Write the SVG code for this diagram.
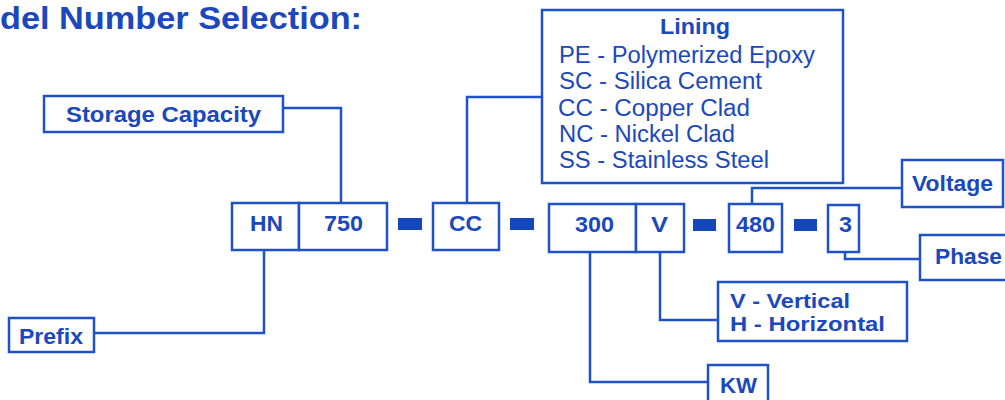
<svg xmlns="http://www.w3.org/2000/svg" width="1005" height="400" viewBox="0 0 1005 400">
<style>
.box{fill:#fff;stroke:#1f52c8;stroke-width:2.5}
.ln{fill:none;stroke:#1f52c8;stroke-width:2.5}
.dash{fill:#1646bc}
text{font-family:"Liberation Sans",Arial,sans-serif;fill:#1b48bd}
.t{font-size:31px;font-weight:bold}
.m{font-size:22px;font-weight:bold}
.s{font-size:20px;font-weight:bold}
.r{font-size:23px}
</style>
<rect width="1005" height="400" fill="#fff"/>
<text class="t" x="0" y="29" textLength="362" lengthAdjust="spacingAndGlyphs">del Number Selection:</text>
<g id="connectors">
<path class="ln" d="M283,108 H341 V203"/>
<path class="ln" d="M542,97 H467 V203"/>
<path class="ln" d="M264,250 V333 H94"/>
<path class="ln" d="M752,204 V188 H902"/>
<path class="ln" d="M845,252 V259 H920"/>
<path class="ln" d="M660,252 V320 H718"/>
<path class="ln" d="M590,252 V382 H708"/>
</g>
<g id="dashes">
<rect class="dash" x="398" y="218" width="24" height="12"/>
<rect class="dash" x="510" y="218" width="24" height="12"/>
<rect class="dash" x="693" y="219" width="23" height="12"/>
<rect class="dash" x="794" y="219" width="23" height="12"/>
</g>
<g id="storage">
<rect class="box" x="44" y="96" width="239" height="36"/>
<text class="m" x="66" y="122" textLength="195" lengthAdjust="spacingAndGlyphs">Storage Capacity</text>
</g>
<g id="lining">
<rect class="box" x="542" y="10" width="301" height="173"/>
<text class="m" x="660" y="34" textLength="70" lengthAdjust="spacingAndGlyphs">Lining</text>
<text class="r" x="559" y="63" textLength="256" lengthAdjust="spacingAndGlyphs">PE - Polymerized Epoxy</text>
<text class="r" x="559" y="89" textLength="203" lengthAdjust="spacingAndGlyphs">SC - Silica Cement</text>
<text class="r" x="558" y="116" textLength="192" lengthAdjust="spacingAndGlyphs">CC - Copper Clad</text>
<text class="r" x="559" y="142" textLength="176" lengthAdjust="spacingAndGlyphs">NC - Nickel Clad</text>
<text class="r" x="559" y="168" textLength="210" lengthAdjust="spacingAndGlyphs">SS - Stainless Steel</text>
</g>
<g id="hn">
<rect class="box" x="232" y="203" width="67" height="47"/>
<text class="m" x="250" y="231" textLength="33" lengthAdjust="spacingAndGlyphs">HN</text>
</g>
<g id="n750">
<rect class="box" x="299" y="203" width="88" height="47"/>
<text class="m" x="324" y="231" textLength="39" lengthAdjust="spacingAndGlyphs">750</text>
</g>
<g id="cc">
<rect class="box" x="433" y="203" width="66" height="47"/>
<text class="m" x="449" y="231" textLength="33" lengthAdjust="spacingAndGlyphs">CC</text>
</g>
<g id="n300">
<rect class="box" x="549" y="204" width="87" height="48"/>
<text class="m" x="575" y="232" textLength="39" lengthAdjust="spacingAndGlyphs">300</text>
</g>
<g id="v">
<rect class="box" x="636" y="204" width="48" height="48"/>
<text class="m" x="651" y="232" textLength="17" lengthAdjust="spacingAndGlyphs">V</text>
</g>
<g id="n480">
<rect class="box" x="729" y="204" width="53" height="48"/>
<text class="m" x="736" y="232" textLength="39" lengthAdjust="spacingAndGlyphs">480</text>
</g>
<g id="n3">
<rect class="box" x="828" y="205" width="31" height="47"/>
<text class="m" x="839" y="232" textLength="13" lengthAdjust="spacingAndGlyphs">3</text>
</g>
<g id="voltage">
<rect class="box" x="902" y="160" width="101" height="47"/>
<text class="m" x="912" y="191" textLength="81" lengthAdjust="spacingAndGlyphs">Voltage</text>
</g>
<g id="phase">
<rect class="box" x="920" y="235" width="95" height="45"/>
<text class="m" x="935" y="264" textLength="67" lengthAdjust="spacingAndGlyphs">Phase</text>
</g>
<g id="orientation">
<rect class="box" x="718" y="282" width="189" height="59"/>
<text class="s" x="730" y="308" textLength="120" lengthAdjust="spacingAndGlyphs">V - Vertical</text>
<text class="s" x="730" y="331" textLength="155" lengthAdjust="spacingAndGlyphs">H - Horizontal</text>
</g>
<g id="kw">
<rect class="box" x="708" y="365" width="60" height="45"/>
<text class="m" x="720" y="393" textLength="37" lengthAdjust="spacingAndGlyphs">KW</text>
</g>
<g id="prefix">
<rect class="box" x="9" y="318" width="85" height="34"/>
<text class="m" x="19" y="344" textLength="64" lengthAdjust="spacingAndGlyphs">Prefix</text>
</g>
</svg>
